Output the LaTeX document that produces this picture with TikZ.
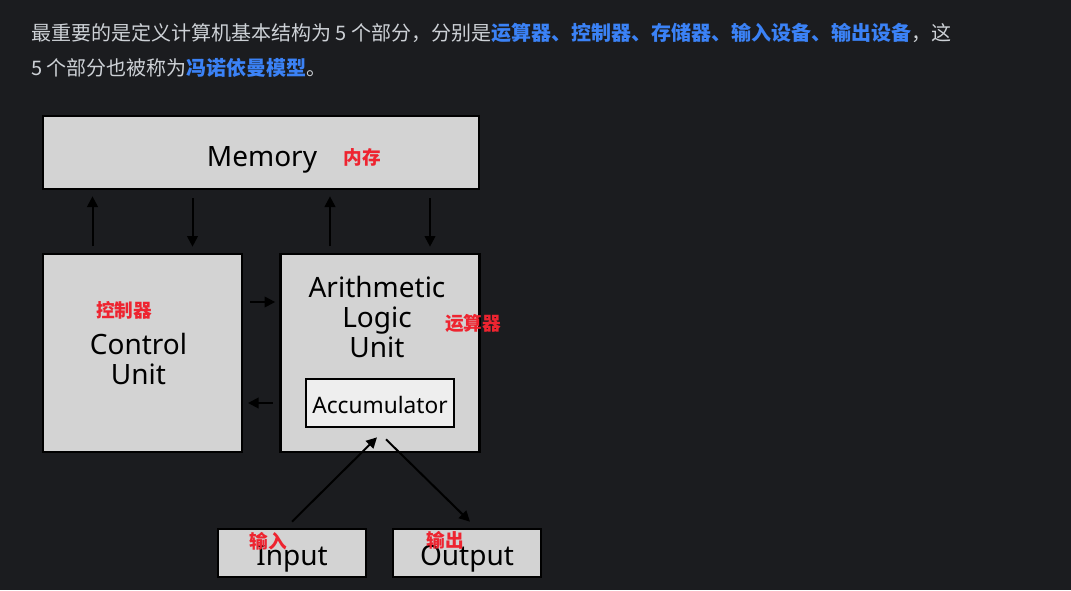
\documentclass[tikz,border=0pt]{standalone}
\usepackage{fontspec}
\setmainfont{Noto Sans}
\newfontfamily\cjk{Noto Sans CJK SC}
\definecolor{pagebg}{HTML}{1B1C1F}
\definecolor{bodytext}{HTML}{CDD1D6}
\definecolor{linkblue}{HTML}{3B82F6}
\definecolor{notered}{HTML}{EE2430}
\definecolor{boxgray}{HTML}{D3D3D3}
\definecolor{accwhite}{HTML}{EEEEEE}
\usetikzlibrary{arrows.meta, calc}

\begin{document}
\begin{tikzpicture}[x=0.75pt, y=-0.75pt,
    unitbox/.style={draw=black, line width=2pt, fill=boxgray, inner sep=0pt},
    boxtxt/.style={align=center, inner sep=0pt, font=\fontsize{21}{22.5}\selectfont},
    arr/.style={draw=black, line width=1.5pt, -{Triangle[length=8pt, width=8pt]}},
    note/.style={text=notered, inner sep=0pt, font=\cjk\bfseries\fontsize{14}{16}\selectfont},
    para/.style={anchor=west, inner sep=0pt, text=bodytext, font=\cjk\fontsize{15}{18}\selectfont}]

    \fill[pagebg] (0,0) rectangle (1071,590);
    \useasboundingbox (0,0) rectangle (1071,590);

    % Intro text
    \node[para] (line1) at (31,33) {最重要的是定义计算机基本结构为 5 个部分，分别是\textcolor{linkblue}{\bfseries 运算器、控制器、存储器、输入设备、输出设备}，这};
    \node[para] (line2) at (31,68) {5 个部分也被称为\textcolor{linkblue}{\bfseries 冯诺依曼模型}。};

    % Memory
    \node[unitbox, minimum width=327pt, minimum height=54.75pt] (mem) at (261,152.5) {};
    \node[boxtxt] (memtxt) at ($(mem)+(1,7)$) {Memory};
    \node[note] (memnote) at (362,157) {内存};

    % Control unit and ALU
    \node[unitbox, minimum width=149.25pt, minimum height=148.5pt] (cu) at (142.5,353) {};
    \node[boxtxt, font=\fontsize{21}{23}\selectfont] (cutxt) at ($(cu)+(-4,6)$) {Control\\Unit};
    \node[note] (cunote) at (124,310) {控制器};
    \node[unitbox, minimum width=149.25pt, minimum height=148.5pt] (alu) at (380,353) {};
    \node[boxtxt] (alutxt) at ($(alu)+(-3,-36)$) {Arithmetic\\Logic\\Unit};
    \node[note] (alunote) at (473,323) {运算器};
    \node[unitbox, fill=accwhite, minimum width=111pt, minimum height=36pt] (acc) at (380,403) {};
    \node[boxtxt, font=\fontsize{17}{19}\selectfont] (acctxt) at ($(acc)+(0,2)$) {Accumulator};

    % Input / Output
    \node[unitbox, minimum width=111pt, minimum height=36pt] (inp) at (292,553) {};
    \node[unitbox, minimum width=111pt, minimum height=36pt] (out) at (467,553) {};
    \node[boxtxt] (inptxt) at ($(inp)+(0,6)$) {Input};
    \node[boxtxt] (outtxt) at ($(out)+(0,6)$) {Output};
    \node[note] (inpnote) at (268,541) {输入};
    \node[note] (outnote) at (445,540) {输出};

    % memory <-> units
    \foreach \u in {cu, alu} {
        \coordinate (up) at ($(\u.north)+(-50,0)$);
        \coordinate (dn) at ($(\u.north)+(50,0)$);
        \draw[arr, shorten <=5pt, shorten >=4.5pt] (up) -- (up |- mem.south);
        \draw[arr, shorten <=6pt, shorten >=4.5pt] (dn |- mem.south) -- (dn);
    }

    % control <-> alu
    \coordinate (rt) at ($(cu.east)+(0,-51)$);
    \coordinate (lt) at ($(cu.east)+(0,50)$);
    \draw[arr, shorten <=5pt, shorten >=3pt] (rt) -- (rt -| alu.west);
    \draw[arr, shorten <=5pt, shorten >=3.5pt] (lt -| alu.west) -- (lt);

    % input / output
    \draw[arr] ($(inp.north)+(0,-6)$) -- ($(acc.south)+(-3,9)$);
    \draw[arr] ($(acc.south)+(6,11)$) -- ($(out.north)+(3,-6)$);
\end{tikzpicture}
\end{document}
